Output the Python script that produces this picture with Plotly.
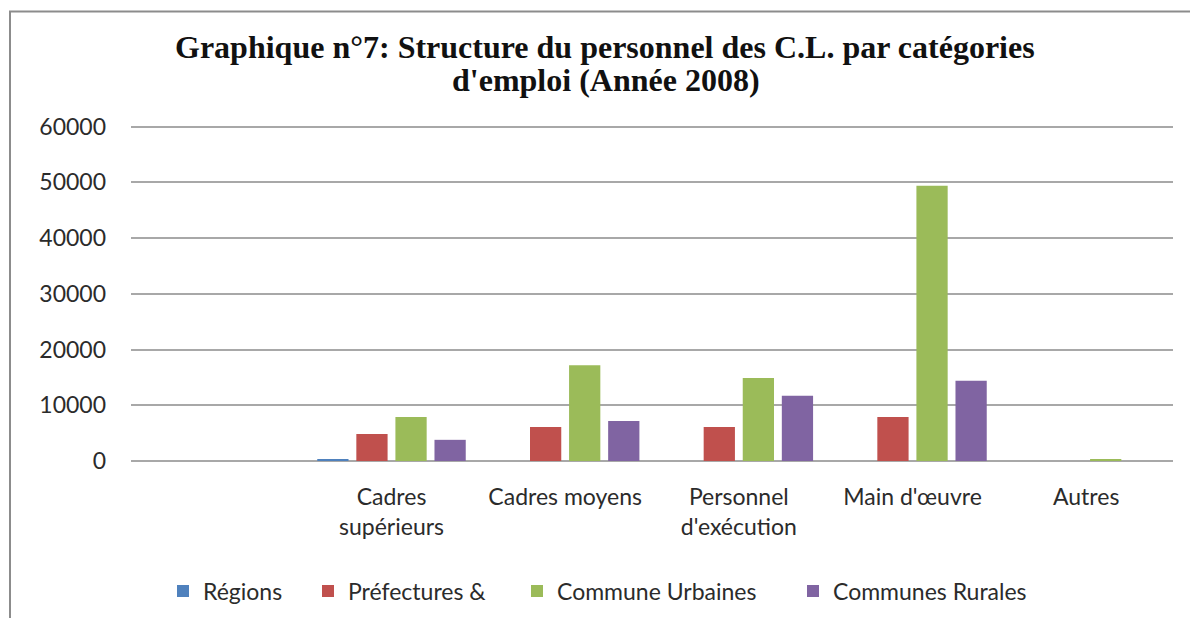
import plotly.graph_objects as go

categories = ["", "Cadres<br>supérieurs", "Cadres moyens", "Personnel<br>d'exécution", "Main d'œuvre", "Autres"]
regions = [None, 300, 0, 0, 0, 0]
prefectures = [None, 4850, 6100, 6100, 7900, 0]
communes_urbaines = [None, 7900, 17200, 14900, 49400, 300]
communes_rurales = [None, 3800, 7200, 11700, 14400, 0]
series_names = ["Régions", "Préfectures &", "Commune Urbaines", "Communes Rurales"]
y_ticks = [0, 10000, 20000, 30000, 40000, 50000, 60000]
title_lines = ["Graphique n°7: Structure du personnel des C.L. par catégories", "d'emploi (Année 2008)"]

colors = ["#4F81BD", "#C0504D", "#9BBB59", "#8064A2"]
xpos = list(range(len(categories)))

OFF = 8  # page body margin
W, H = 1198 - OFF, 618 - OFF
YMAX = 60300
L, R = 131 - OFF, 1173 - OFF
B = 461 - OFF
ph = 334 * YMAX / 60000
T = B - ph
pw = R - L

def px_x(p):
    return (p - OFF - L) / pw

def px_y(p):
    return (B - (p - OFF)) / ph

legend_keys = ["legend", "legend2", "legend3", "legend4"]
legend_text_x = [203, 348, 557, 833]

fig = go.Figure()
for name, vals, col, lk in zip(series_names, [regions, prefectures, communes_urbaines, communes_rurales], colors, legend_keys):
    fig.add_trace(go.Bar(x=xpos, y=vals, name=name, legend=lk, showlegend=True,
                         marker=dict(color=col, line=dict(width=0))))

leg_font = dict(family="Lato", size=23, color="#2b2b2b")
legends = {}
for lk, tx in zip(legend_keys, legend_text_x):
    legends[lk] = dict(
        orientation="h", x=px_x(tx - 40), xanchor="left",
        y=px_y(591), yanchor="middle", font=leg_font,
        bgcolor="rgba(0,0,0,0)", borderwidth=0,
        itemwidth=30, tracegroupgap=0, visible=True,
    )

fig.update_layout(
    width=W, height=H, showlegend=True,
    margin=dict(l=L, r=W - R, t=T, b=H - B, autoexpand=False),
    paper_bgcolor="white", plot_bgcolor="white",
    barmode="group", bargap=0.10, bargroupgap=0.2,
    font=dict(family="Lato", size=23, color="#2b2b2b"),
    xaxis=dict(
        tickmode="array", tickvals=xpos, ticktext=categories,
        range=[-0.5, len(categories) - 0.5],
        showgrid=False, zeroline=False, showline=False, ticks="",
        ticklabelstandoff=20,
    ),
    yaxis=dict(
        range=[0, YMAX], tickmode="array", tickvals=y_ticks,
        ticktext=[str(v) for v in y_ticks],
        showgrid=True, gridcolor="#a8a8a8", gridwidth=1.6,
        zeroline=True, zerolinecolor="#a8a8a8", zerolinewidth=1.6,
        showline=False, ticks="", ticklabelstandoff=24,
    ),
    annotations=[
        dict(text="<b>" + title_lines[0] + "</b>", xref="paper", yref="paper",
             x=px_x(605), y=px_y(47), xanchor="center", yanchor="middle", showarrow=False,
             font=dict(family="Liberation Serif", size=32, color="#111")),
        dict(text="<b>" + title_lines[1] + "</b>", xref="paper", yref="paper",
             x=px_x(606), y=px_y(80), xanchor="center", yanchor="middle", showarrow=False,
             font=dict(family="Liberation Serif", size=32, color="#111")),
    ],
    shapes=[dict(
        type="rect", xref="paper", yref="paper",
        x0=px_x(10), x1=px_x(1215), y0=px_y(640), y1=px_y(12),
        line=dict(color="#8c8c8c", width=2), fillcolor="rgba(0,0,0,0)", layer="below",
    )],
    **legends,
)

fig.write_html("out.html")
